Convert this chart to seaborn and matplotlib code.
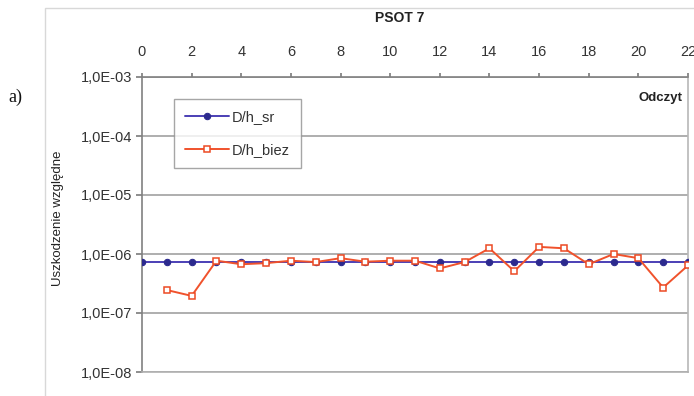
import numpy as np
import pandas as pd
import matplotlib
matplotlib.use("Agg")
import matplotlib.pyplot as plt
import matplotlib.ticker as mticker
from matplotlib.patches import Rectangle
import seaborn as sns

sns.set_theme(style="white")
plt.rcParams['font.family'] = ['Liberation Sans', 'DejaVu Sans']

# Readings (odczyt) and relative damage values
odczyt_sr = list(range(0, 23))
dh_sr = [7.3e-7] * 23

odczyt_biez = list(range(1, 23))
dh_biez = [2.45e-7, 1.95e-7, 7.7e-7, 6.7e-7, 7.0e-7, 7.7e-7, 7.3e-7, 8.5e-7,
           7.4e-7, 7.7e-7, 7.7e-7, 5.7e-7, 7.3e-7, 1.25e-6, 5.1e-7, 1.32e-6,
           1.25e-6, 6.7e-7, 1.0e-6, 8.5e-7, 2.7e-7, 6.4e-7]

x_ticks = list(range(0, 23, 2))
y_ticks = [1e-8, 1e-7, 1e-6, 1e-5, 1e-4, 1e-3]

df_sr = pd.DataFrame({"odczyt": odczyt_sr, "value": dh_sr})
df_biez = pd.DataFrame({"odczyt": odczyt_biez, "value": dh_biez})

W, H = 694, 396
fig = plt.figure(figsize=(W / 100, H / 100), dpi=100)
fig.patch.set_facecolor("white")

# light outer chart frame
fig.patches.append(Rectangle((45 / W, -0.01), 1.05, 1 - 8 / H + 0.01,
                             transform=fig.transFigure, fill=False,
                             edgecolor="#d8d8d8", lw=1.0))

ax = fig.add_axes([142 / W, 1 - 372 / H, 546 / W, 295 / H])
ax.set_yscale("log")

sns.lineplot(data=df_sr, x="odczyt", y="value", ax=ax, color="#4b3fb5",
             lw=1.4, marker="o", markersize=4.6, markerfacecolor="#2c2a8e",
             markeredgecolor="#2c2a8e", label="D/h_sr", zorder=3)
sns.lineplot(data=df_biez, x="odczyt", y="value", ax=ax, color="#f0522c",
             lw=1.4, marker="s", markersize=5.0, markerfacecolor="white",
             markeredgecolor="#ec4a24", markeredgewidth=1.1,
             label="D/h_biez", zorder=4)

ax.set_xlim(0, 22)
ax.set_ylim(1e-8, 1e-3)

ax.xaxis.tick_top()
ax.xaxis.set_label_position("top")
ax.set_xticks(x_ticks)
ax.set_xticklabels([str(v) for v in x_ticks], fontsize=10.5, color="#333333")
ax.set_yticks(y_ticks)
ax.yaxis.set_major_formatter(mticker.FuncFormatter(
    lambda v, p: "1,0E-%02d" % round(-np.log10(v))))
ax.yaxis.set_minor_locator(mticker.NullLocator())
ax.tick_params(axis="y", labelsize=10.5, labelcolor="#333333", length=4,
               color="#808080", left=True, pad=3)
ax.tick_params(axis="x", length=3, color="#808080", top=True, bottom=False,
               pad=10)
ax.set_xlabel("")
ax.set_ylabel("Uszkodzenie względne", fontsize=9.5, color="#222222")
ax.yaxis.set_label_coords(-0.142, 0.52)

ax.grid(True, axis="y", color="#a8a8a8", lw=1.3)
ax.grid(False, axis="x")
for side, col in [("left", "#808080"), ("top", "#808080"),
                  ("right", "#b8b8b8"), ("bottom", "#b0b0b0")]:
    ax.spines[side].set_visible(True)
    ax.spines[side].set_color(col)
    ax.spines[side].set_linewidth(1.2)

leg = ax.legend(loc="upper left", bbox_to_anchor=(32 / 546, 1 - 22 / 295),
                frameon=True, fancybox=False, edgecolor="#909090",
                fontsize=10.5, handlelength=3.0, borderpad=0.75,
                labelspacing=1.3, handletextpad=0.2, borderaxespad=0)
leg.get_frame().set_linewidth(1.0)
for t in leg.get_texts():
    t.set_color("#333333")

ax.text(0.99, 0.93, "Odczyt", transform=ax.transAxes, ha="right",
        va="center", fontsize=9.5, fontweight="bold", color="#222222")

fig.text(400 / W, 1 - 18 / H, "PSOT 7", ha="center", va="center",
         fontsize=10, fontweight="bold", color="#222222")
fig.text(15 / W, 1 - 97 / H, "a)", ha="center", va="center",
         fontsize=13, family="Liberation Serif", color="#111111")

fig.savefig("out.png", dpi=100, facecolor="white")
